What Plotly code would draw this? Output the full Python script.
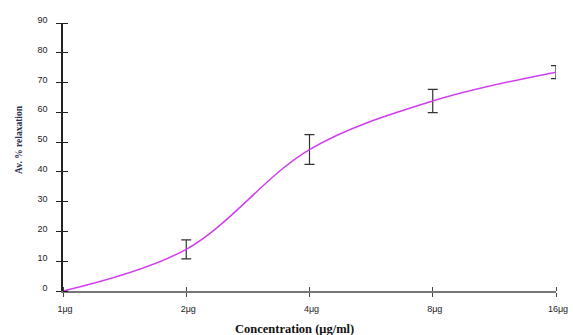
import plotly.graph_objects as go

categories = ["1μg", "2μg", "4μg", "8μg", "16μg"]
relaxation = [0, 14, 47.5, 63.8, 73.5]
errors = [0, 3.2, 5.0, 3.9, 2.2]
y_ticks = [0, 10, 20, 30, 40, 50, 60, 70, 80, 90]

xpos = list(range(len(categories)))

fig = go.Figure()
fig.add_trace(go.Scatter(
    x=xpos, y=relaxation,
    mode="lines",
    line=dict(color="#D23CF0", width=1.5, shape="spline", smoothing=1.0),
    error_y=dict(type="data", array=errors, visible=True, color="#333333",
                 thickness=1.2, width=5),
    cliponaxis=False,
    showlegend=False,
))

fig.update_layout(
    width=573, height=335,
    margin=dict(l=63, r=17, t=23, b=44),
    paper_bgcolor="white", plot_bgcolor="white",
    font=dict(family="Liberation Sans, Arial, sans-serif", size=9, color="#222222"),
    xaxis=dict(
        range=[0, 4], tickmode="array", tickvals=xpos, ticktext=categories,
        showgrid=False, zeroline=False,
        showline=True, linecolor="#777777", linewidth=1.5,
        ticks="outside", ticklen=4, tickcolor="#444444", tickwidth=1,
        minor=dict(tickmode="array", tickvals=xpos, ticks="inside", ticklen=4,
                   tickcolor="#444444", tickwidth=1),
        tickfont=dict(size=9),
        ticklabelstandoff=4,
        ticklabelshift=2,
        automargin=False,
    ),
    yaxis=dict(
        range=[0, 90], tickmode="array", tickvals=y_ticks,
        showgrid=False, zeroline=False,
        showline=True, linecolor="#222222", linewidth=1.5,
        ticks="outside", ticklen=5, tickcolor="#222222", tickwidth=1,
        minor=dict(tickmode="array", tickvals=y_ticks, ticks="inside", ticklen=5,
                   tickcolor="#222222", tickwidth=1),
        ticklabelstandoff=7,
        ticklabelshift=-3,
        tickfont=dict(size=9),
        automargin=False,
    ),
    annotations=[
        dict(text="<b>Concentration (μg/ml)</b>", xref="paper", yref="paper",
             x=(294 - 63) / 493, y=(291 - 329) / 268, xanchor="center", yanchor="middle",
             showarrow=False, font=dict(family="Liberation Serif, Times New Roman, serif",
                                        size=12.5, color="#111111")),
        dict(text="<b>Av. % relaxation</b>", xref="paper", yref="paper",
             x=(19 - 63) / 493, y=(291 - 140) / 268, xanchor="center", yanchor="middle",
             textangle=-90, showarrow=False,
             font=dict(family="Liberation Serif, Times New Roman, serif", size=9.5,
                       color="#2a3050")),
    ],
)

fig.write_html("out.html", config={"displayModeBar": False},
               post_script="document.body.style.margin='0';document.body.style.overflow='hidden';")
